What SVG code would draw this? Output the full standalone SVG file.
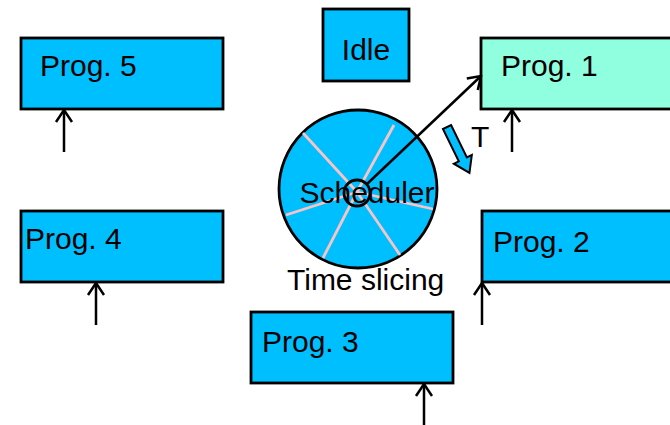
<svg xmlns="http://www.w3.org/2000/svg" width="670" height="425" viewBox="0 0 670 425">
<defs>
<style>
.box{fill:#00bfff;stroke:#000;stroke-width:2.8}
.t{font-family:"Liberation Sans",Arial,sans-serif;font-size:30px;fill:#000}
.c{stroke:#000;stroke-width:2.5;fill:none}
.sp{stroke:#f8c4c4;stroke-width:2.8}
</style>
<marker id="ah" viewBox="0 0 20 20" refX="18" refY="10" markerWidth="20" markerHeight="20" markerUnits="userSpaceOnUse" orient="auto">
<path d="M6,2 L18,10 L6,18" fill="none" stroke="#000" stroke-width="2.5"/>
</marker>
</defs>
<rect width="670" height="425" fill="#fff"/>
<g id="idle"><rect class="box" x="323" y="9" width="86" height="72"/><text class="t" x="366" y="60" text-anchor="middle">Idle</text></g>
<g id="prog5"><rect class="box" x="21" y="38" width="202" height="71"/><text class="t" x="40" y="76">Prog. 5</text></g>
<g id="prog1"><rect class="box" x="481" y="38" width="200" height="71" style="fill:#8fffe0"/><text class="t" x="501" y="76">Prog. 1</text></g>
<g id="prog4"><rect class="box" x="21" y="211" width="202" height="71"/><text class="t" x="25" y="249">Prog. 4</text></g>
<g id="prog2"><rect class="box" x="482" y="211" width="200" height="71"/><text class="t" x="493" y="252">Prog. 2</text></g>
<g id="prog3"><rect class="box" x="251" y="312" width="202" height="71"/><text class="t" x="262" y="352">Prog. 3</text></g>
<g id="scheduler">
<circle cx="358" cy="189" r="79" fill="#00bfff" stroke="#000" stroke-width="2.8"/>
<g class="sp">
<line x1="357" y1="192" x2="303" y2="133"/>
<line x1="357" y1="192" x2="394" y2="125"/>
<line x1="357" y1="192" x2="286" y2="215"/>
<line x1="357" y1="192" x2="433" y2="209"/>
<line x1="357" y1="192" x2="323" y2="258"/>
<line x1="357" y1="192" x2="400" y2="255"/>
</g>
<text class="t" x="367" y="203" text-anchor="middle">Scheduler</text>
<circle cx="357" cy="193" r="13" fill="none" stroke="#000" stroke-width="2.8"/>
<text class="t" x="287" y="290">Time slicing</text>
</g>
<g id="connectors">
<line class="c" x1="367" y1="184" x2="481" y2="76" marker-end="url(#ah)"/>
<line class="c" x1="64" y1="152" x2="64" y2="110" marker-end="url(#ah)"/>
<line class="c" x1="512" y1="152" x2="512" y2="110" marker-end="url(#ah)"/>
<line class="c" x1="96" y1="325" x2="96" y2="283" marker-end="url(#ah)"/>
<line class="c" x1="482" y1="325" x2="482" y2="283" marker-end="url(#ah)"/>
<line class="c" x1="424" y1="425" x2="424" y2="384" marker-end="url(#ah)"/>
</g>
<g id="t-arrow">
<polygon transform="translate(447,127) rotate(63.9)" points="0,-4.5 36,-4.5 36,-10 51,0 36,10 36,4.5 0,4.5" fill="#00bfff" stroke="#000" stroke-width="2"/>
<text class="t" x="471" y="147">T</text>
</g>
</svg>
